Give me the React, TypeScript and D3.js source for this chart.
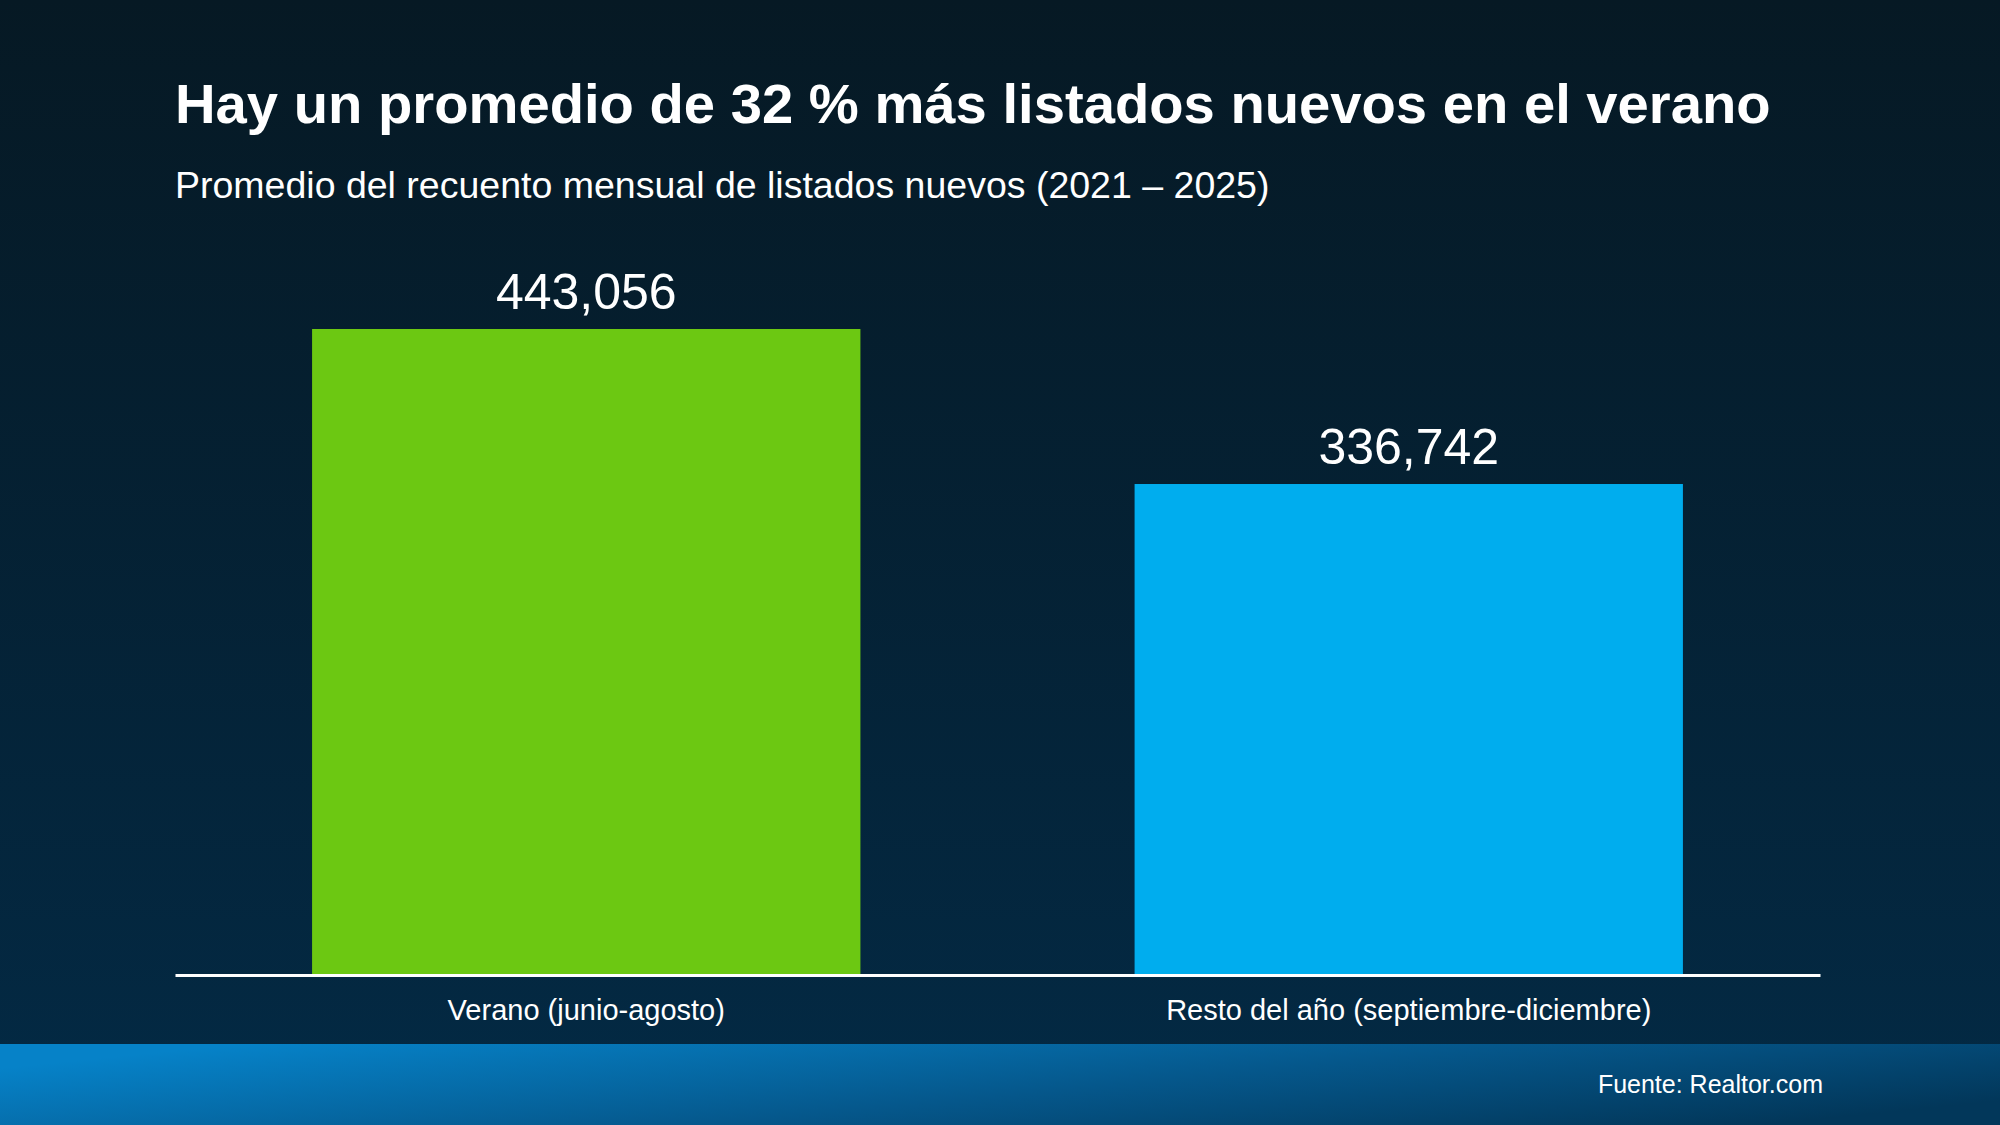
import { useEffect, useRef } from "react";
import * as d3 from "d3";

const categories = ["Verano (junio-agosto)", "Resto del año (septiembre-diciembre)"];
const values = [443056, 336742];
const barColors = ["#6cc812", "#00adee"];

const title = "Hay un promedio de 32 % más listados nuevos en el verano";
const subtitle = "Promedio del recuento mensual de listados nuevos (2021 – 2025)";
const source = "Fuente: Realtor.com";

export default function App() {
  const svgRef = useRef<SVGSVGElement | null>(null);

  useEffect(() => {
    document.body.style.margin = "0";

    const width = 2000;
    const height = 1125;
    const margin = { top: 329, right: 180, bottom: 150, left: 175 };
    const baseY = height - margin.bottom;

    const svg = d3.select(svgRef.current);
    svg.selectAll("*").remove(); // clean before drawing

    svg.attr("width", width).attr("height", height);

    const defs = svg.append("defs");
    const bg = defs
      .append("linearGradient")
      .attr("id", "bg")
      .attr("x1", 0)
      .attr("y1", 0)
      .attr("x2", 0)
      .attr("y2", 1);
    bg.append("stop").attr("offset", "0%").attr("stop-color", "#061924");
    bg.append("stop").attr("offset", "100%").attr("stop-color", "#032a45");

    const foot = defs
      .append("linearGradient")
      .attr("id", "foot")
      .attr("x1", 0)
      .attr("y1", 0.3)
      .attr("x2", 1)
      .attr("y2", 0.7);
    foot.append("stop").attr("offset", "0%").attr("stop-color", "#0682c8");
    foot.append("stop").attr("offset", "55%").attr("stop-color", "#05578b");
    foot.append("stop").attr("offset", "100%").attr("stop-color", "#02375a");

    svg
      .append("rect")
      .attr("width", width)
      .attr("height", height)
      .attr("fill", "url(#bg)");

    svg
      .append("rect")
      .attr("y", 1044)
      .attr("width", width)
      .attr("height", height - 1044)
      .attr("fill", "url(#foot)");

    const font = "'Liberation Sans', Arial, Helvetica, sans-serif";

    svg
      .append("text")
      .attr("x", 175)
      .attr("y", 123)
      .attr("fill", "#fff")
      .attr("font-family", font)
      .attr("font-weight", "bold")
      .attr("font-size", 56.2)
      .text(title);

    svg
      .append("text")
      .attr("x", 175)
      .attr("y", 198)
      .attr("fill", "#fff")
      .attr("font-family", font)
      .attr("font-size", 37.5)
      .text(subtitle);

    const x = d3
      .scaleBand<string>()
      .domain(categories)
      .range([margin.left, width - margin.right])
      .paddingInner(1 / 3)
      .paddingOuter(1 / 6);

    const y = d3
      .scaleLinear()
      .domain([0, d3.max(values) as number])
      .range([baseY, margin.top]);

    const data = categories.map((c, i) => ({ c, v: values[i], color: barColors[i] }));

    svg
      .append("g")
      .selectAll("rect")
      .data(data)
      .join("rect")
      .attr("x", (d) => x(d.c) as number)
      .attr("y", (d) => y(d.v))
      .attr("width", x.bandwidth())
      .attr("height", (d) => baseY - y(d.v))
      .attr("fill", (d) => d.color);

    svg
      .append("g")
      .selectAll("text")
      .data(data)
      .join("text")
      .attr("x", (d) => (x(d.c) as number) + x.bandwidth() / 2)
      .attr("y", (d) => y(d.v) - 20)
      .attr("text-anchor", "middle")
      .attr("fill", "#fff")
      .attr("font-family", font)
      .attr("font-size", 50)
      .text((d) => d3.format(",")(d.v));

    // axis line + category labels
    const axis = svg
      .append("g")
      .attr("transform", `translate(0,${baseY})`)
      .call(d3.axisBottom(x).tickSize(0).tickPadding(45));
    axis
      .select(".domain")
      .attr("stroke", "#fff")
      .attr("stroke-width", 3);
    axis
      .selectAll(".tick text")
      .attr("fill", "#fff")
      .attr("font-family", font)
      .attr("font-size", 29)
      .attr("dy", 0);

    svg
      .append("text")
      .attr("x", 1823)
      .attr("y", 1093)
      .attr("text-anchor", "end")
      .attr("fill", "#fff")
      .attr("font-family", font)
      .attr("font-size", 25)
      .text(source);
  }, []);

  return <svg ref={svgRef} style={{ display: "block" }} role="img" aria-label={title}></svg>;
}
